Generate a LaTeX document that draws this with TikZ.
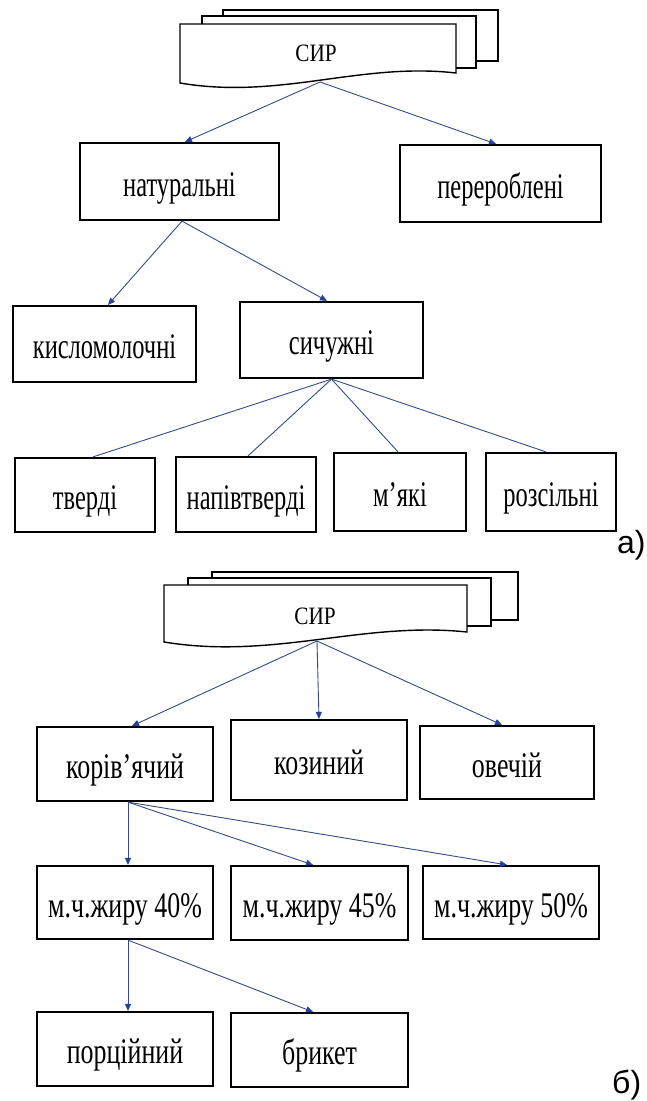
\documentclass[tikz,border=0pt]{standalone}
\usepackage{fontspec}
\setmainfont{Liberation Serif}
\newfontfamily\condA[FakeStretch=0.68]{Liberation Serif}
\newfontfamily\condB[FakeStretch=0.72]{Liberation Serif}
\newfontfamily\condS[FakeStretch=0.85]{Liberation Serif}
\newfontfamily\labfont{Liberation Sans}
\usetikzlibrary{arrows.meta}
\definecolor{conncol}{RGB}{55,75,135}
\definecolor{tipcol}{RGB}{35,65,160}
\begin{document}
\begin{tikzpicture}[x=1pt,y=-1pt,
  box/.style={draw=black, line width=2.2pt, fill=white, inner sep=0pt, align=center,
              text height=29pt, text depth=0pt},
  ta/.style={font=\condA\fontsize{36}{40}\selectfont},
  tb/.style={font=\condB\fontsize{36}{40}\selectfont},
  docshape/.style={draw=black, line width=1.4pt, fill=white},
  link/.style={draw=conncol, line width=0.9pt},
  arr/.style={link, -{Triangle[length=7pt,width=6pt,color=tipcol,fill=tipcol]}},
  lbl/.style={font=\labfont\fontsize{32}{32}\selectfont, anchor=base west, inner sep=0pt},
]
\fill[white] (0,0) rectangle (646,1101);
\useasboundingbox (0,0) rectangle (646,1101);

% ---------- part a ----------
\draw[docshape] (223,10) rectangle (498,61);
\draw[docshape] (202,16) rectangle (476,68);
\draw[docshape] (180,24) -- (456,24) -- (456,73) .. controls (360,62) and (280,100) .. (180,83) -- cycle;
\node[font=\condS\fontsize{25}{28}\selectfont, inner sep=0pt] (sirA) at (316,53) {СИР};
\coordinate (srcA) at (320,82);

\node[box, ta, minimum width=199pt, minimum height=77pt] (nat) at (179.5,181.5) {натуральні};
\node[box, ta, minimum width=201pt, minimum height=77pt] (perer) at (500.5,183.5) {перероблені};
\node[box, ta, minimum width=183pt, minimum height=76pt] (kys) at (104.5,344) {кисломолочні};
\node[box, ta, minimum width=183pt, minimum height=76pt] (sych) at (331.5,340) {сичужні};
\node[box, ta, minimum width=140pt, minimum height=74pt] (tv) at (85,495) {тверді};
\node[box, ta, minimum width=140pt, minimum height=75pt] (npv) at (246,494.5) {напівтверді};
\node[box, ta, minimum width=132pt, minimum height=78pt] (mk) at (400,492) {м’які};
\node[box, ta, minimum width=130pt, minimum height=78pt] (roz) at (551,492) {розсільні};
\node[lbl] (labA) at (617,553) {а)};

\draw[arr] (srcA) -- ([xshift=5.5pt]nat.north);
\draw[arr] (srcA) -- ([xshift=-4.5pt]perer.north);
\draw[arr] ([xshift=2.5pt]nat.south) -- ([xshift=3.5pt]kys.north);
\draw[arr] ([xshift=2.5pt]nat.south) -- ([xshift=-4.5pt]sych.north);
\draw[link] (sych.south) -- ([xshift=8pt]tv.north);
\draw[link] (sych.south) -- ([xshift=2pt]npv.north);
\draw[link] (sych.south) -- ([xshift=-2pt]mk.north);
\draw[link] (sych.south) -- ([xshift=-5pt]roz.north);

% ---------- part b ----------
\draw[docshape] (212,572) rectangle (518,620);
\draw[docshape] (188,578) rectangle (491,626);
\draw[docshape] (164,585) -- (467,585) -- (467,632) .. controls (362,621) and (274,660) .. (164,642) -- cycle;
\node[font=\condS\fontsize{25}{28}\selectfont, inner sep=0pt] (sirB) at (315,616) {СИР};
\coordinate (srcB) at (317,641);

\node[box, tb, minimum width=176pt, minimum height=74pt] (kor) at (125,764) {корів’ячий};
\node[box, tb, minimum width=176pt, minimum height=80pt] (koz) at (319,760) {козиний};
\node[box, tb, minimum width=174pt, minimum height=73pt] (ov) at (507,762.5) {овечій};
\node[box, tb, minimum width=176pt, minimum height=73pt] (m40) at (125,902.5) {м.ч.жиру 40\%};
\node[box, tb, minimum width=177pt, minimum height=74pt] (m45) at (319.5,903) {м.ч.жиру 45\%};
\node[box, tb, minimum width=176pt, minimum height=73pt] (m50) at (511,902.5) {м.ч.жиру 50\%};
\node[box, tb, minimum width=176pt, minimum height=74pt] (por) at (125,1049) {порційний};
\node[box, tb, minimum width=177pt, minimum height=74pt] (bri) at (319.5,1050) {брикет};
\node[lbl] (labB) at (612,1093) {б)};

\draw[arr] (srcB) -- ([xshift=7pt]kor.north);
\draw[arr] (srcB) -- (koz.north);
\draw[arr] (srcB) -- ([xshift=-5pt]ov.north);
\draw[arr] ([xshift=3pt]kor.south) -- ([xshift=3pt]m40.north);
\draw[arr] ([xshift=3pt]kor.south) -- ([xshift=-6.5pt]m45.north);
\draw[arr] ([xshift=3pt]kor.south) -- ([xshift=-4pt]m50.north);
\draw[arr] ([xshift=3pt]m40.south) -- ([xshift=3pt]por.north);
\draw[arr] ([xshift=3pt]m40.south) -- ([xshift=-6.5pt]bri.north);
\end{tikzpicture}
\end{document}
